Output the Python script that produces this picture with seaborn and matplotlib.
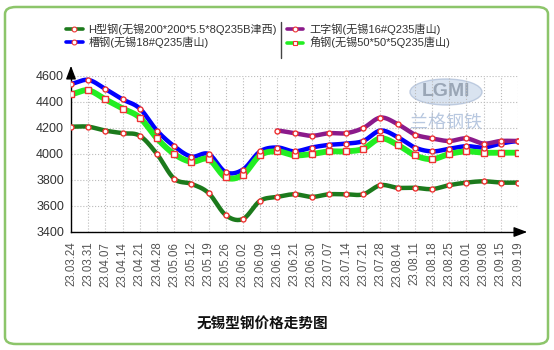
import numpy as np
import pandas as pd
import matplotlib
matplotlib.use("Agg")
import matplotlib.pyplot as plt
import seaborn as sns
from matplotlib.lines import Line2D
from matplotlib.patches import FancyBboxPatch, Ellipse

sns.set_style("white")
plt.rcParams['font.family'] = ['Liberation Sans', 'Noto Sans CJK SC', 'DejaVu Sans']

dates = ["23.03.24", "23.03.31", "23.04.07", "23.04.14", "23.04.21", "23.04.28",
         "23.05.06", "23.05.12", "23.05.19", "23.05.26", "23.06.02", "23.06.09",
         "23.06.16", "23.06.21", "23.06.30", "23.07.07", "23.07.14", "23.07.21",
         "23.07.28", "23.08.04", "23.08.11", "23.08.18", "23.08.25", "23.09.01",
         "23.09.08", "23.09.15", "23.09.19"]

h_steel = [4210, 4210, 4180, 4160, 4140, 4000, 3810, 3770, 3700, 3530, 3500, 3640,
           3670, 3690, 3670, 3690, 3690, 3690, 3760, 3740, 3740, 3730, 3760, 3780,
           3790, 3780, 3780]
channel = [4540, 4570, 4500, 4420, 4350, 4180, 4060, 3980, 4000, 3860, 3880, 4020,
           4050, 4020, 4050, 4070, 4080, 4100, 4180, 4130, 4050, 4020, 4040, 4060,
           4050, 4080, 4100]
i_beam = [None] * 12 + [4180, 4160, 4140, 4160, 4160, 4200, 4280, 4230, 4150, 4120,
                        4100, 4120, 4080, 4100, 4100]
angle = [4460, 4490, 4420, 4350, 4280, 4120, 4000, 3940, 3960, 3820, 3840, 3990,
         4020, 3990, 4000, 4020, 4020, 4040, 4120, 4070, 3990, 3960, 4000, 4020,
         4010, 4010, 4010]

names = ["H型钢(无锡200*200*5.5*8Q235B津西)", "槽钢(无锡18#Q235唐山)",
         "工字钢(无锡16#Q235唐山)", "角钢(无锡50*50*5Q235唐山)"]
yticks = [3400, 3600, 3800, 4000, 4200, 4400, 4600]


def smooth(xs, ys, n=16):
    xs = np.asarray(xs, float)
    ys = np.asarray(ys, float)
    P = np.concatenate([[ys[0]], ys, [ys[-1]]])
    X = np.concatenate([[xs[0] - 1], xs, [xs[-1] + 1]])
    ox, oy = [], []
    for i in range(1, len(P) - 2):
        t = np.linspace(0, 1, n, endpoint=False)
        p0, p1, p2, p3 = P[i - 1], P[i], P[i + 1], P[i + 2]
        y = 0.5 * ((2 * p1) + (-p0 + p2) * t + (2 * p0 - 5 * p1 + 4 * p2 - p3) * t ** 2
                   + (-p0 + 3 * p1 - 3 * p2 + p3) * t ** 3)
        ox.extend(X[i] + t)
        oy.extend(y)
    ox.append(xs[-1])
    oy.append(ys[-1])
    return np.array(ox), np.array(oy)


fig = plt.figure(figsize=(5.54, 3.5), dpi=100)
frame = FancyBboxPatch((5 / 554, 6 / 350), 543 / 554, 337 / 350,
                       boxstyle="round,pad=0,rounding_size=0.02",
                       transform=fig.transFigure, facecolor="white",
                       edgecolor="#8cc56a", linewidth=1.8, zorder=-5)
fig.patches.append(frame)

ax = fig.add_axes([71 / 554, 1 - 232 / 350, 447 / 554, 156 / 350])
ax.set_facecolor("none")
ax.set_zorder(2)

styles = [
    (h_steel, "#1c7a1c", 3.2, "o", 3.6),
    (channel, "#0000ff", 3.2, "o", 3.6),
    (i_beam, "#8b1a8b", 3.2, "o", 3.6),
    (angle, "#22ee22", 4.2, "s", 4.6),
]
draw_order = [3, 0, 1, 2]
for k in draw_order:
    vals, col, lw, mk, ms = styles[k]
    xs = [i for i, v in enumerate(vals) if v is not None]
    ys = [v for v in vals if v is not None]
    sx, sy = smooth(xs, ys)
    sns.lineplot(x=sx, y=sy, ax=ax, color=col, linewidth=lw, zorder=3 + k,
                 sort=False, estimator=None)
    ax.plot(xs, ys, linestyle="none", marker=mk, markersize=ms,
            markerfacecolor="white", markeredgecolor="#ee3333",
            markeredgewidth=1.0, zorder=10)

ax.set_xlim(0, len(dates) - 1)
ax.set_ylim(3400, 4600)
ax.set_xticks(range(len(dates)))
ax.set_xticklabels(dates, rotation=90, fontsize=8.3, color="#555555")
ax.set_yticks(yticks)
ax.set_yticklabels([str(v) for v in yticks], fontsize=9, color="#333333")
ax.grid(True, color="#bbbbbb", linestyle=":", linewidth=0.8)
for s in ["top", "right"]:
    ax.spines[s].set_visible(False)
for s in ["left", "bottom"]:
    ax.spines[s].set_color("black")
    ax.spines[s].set_linewidth(1.0)
ax.tick_params(axis="x", length=4, width=0.8, direction="out", pad=3, color="black")
ax.tick_params(axis="y", length=4, width=0.8, direction="out", pad=1, color="black")
ax.set_xlabel("")
ax.set_ylabel("")

# axis arrows
ax.annotate("", xy=(530 / 554, 1 - 232 / 350), xytext=(517 / 554, 1 - 232 / 350),
            xycoords="figure fraction",
            arrowprops=dict(arrowstyle="-|>,head_length=0.8,head_width=0.3",
                            color="black", lw=1.0))
ax.annotate("", xy=(71 / 554, 1 - 63 / 350), xytext=(71 / 554, 1 - 77 / 350),
            xycoords="figure fraction",
            arrowprops=dict(arrowstyle="-|>,head_length=0.8,head_width=0.3",
                            color="black", lw=1.0))

# watermark
fig.patches.append(Ellipse((446 / 554, 1 - 92 / 350), 72 / 554, 26 / 350,
                           transform=fig.transFigure, facecolor="#c9d8ea",
                           edgecolor="#aabbd6", alpha=0.7, zorder=1))
fig.text(446 / 554, 1 - 92 / 350, "LGMI", ha="center", va="center", fontsize=14,
         color="#9aa6b6", fontweight="bold", zorder=1)
fig.text(446 / 554, 1 - 124 / 350, "兰格钢铁", ha="center", va="center", fontsize=13,
         color="#b8c8e0", family=["Noto Sans CJK SC"], zorder=1)

# legend
handles = []
for k in [0, 1, 2, 3]:
    vals, col, lw, mk, ms = styles[k]
    handles.append(Line2D([], [], color=col, linewidth=2.6, marker=mk, markersize=3.5,
                          markerfacecolor="white", markeredgecolor="#ee3333",
                          markeredgewidth=0.8))
leg = fig.legend(handles, names, loc="center", ncol=2,
                 bbox_to_anchor=(258 / 554, 1 - 36 / 350), frameon=False,
                 handlelength=1.5, handletextpad=0.5,
                 columnspacing=0.9, labelspacing=0.15, numpoints=1,
                 prop={"family": ["Liberation Sans", "Noto Sans CJK SC"], "size": 8.0})
for t in leg.get_texts():
    t.set_color("#333333")
fig.add_artist(Line2D([281 / 554, 281 / 554], [1 - 22 / 350, 1 - 58 / 350],
                      transform=fig.transFigure, color="#444444", linewidth=1.0))

fig.text(262 / 554, 1 - 324 / 350, "无锡型钢价格走势图", ha="center", va="center",
         fontsize=10.5, fontweight="bold", color="#111111",
         family=["Noto Sans CJK SC", "DejaVu Sans"])

fig.savefig("out.png", dpi=100)
